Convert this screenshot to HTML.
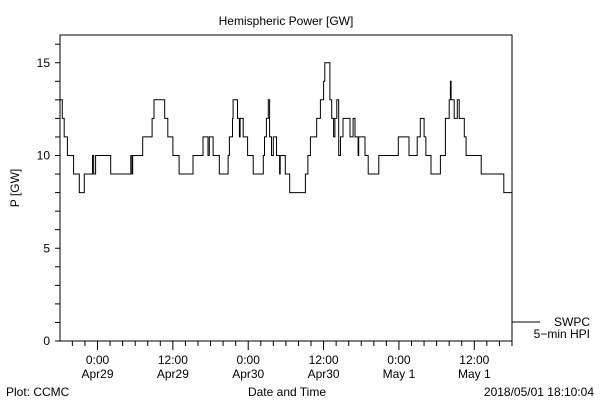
<!DOCTYPE html>
<html><head><meta charset="utf-8"><style>
body{margin:0;background:#fff;}
svg{display:block;font-family:"Liberation Sans","DejaVu Sans",sans-serif;}
text{font-size:12px;fill:#000;}
</style></head><body>
<svg id="chart" width="600" height="400" viewBox="0 0 600 400">
<rect x="0" y="0" width="600" height="400" fill="#fff"/>
<text x="286" y="25" text-anchor="middle" font-size="13">Hemispheric Power [GW]</text>
<text transform="translate(19,188) rotate(-90)" text-anchor="middle">P [GW]</text>
<text x="287" y="396" text-anchor="middle">Date and Time</text>
<text x="6" y="396">Plot: CCMC</text>
<text x="594" y="396" text-anchor="end">2018/05/01 18:10:04</text>
<g id="axes"></g>
<path id="series" fill="none" stroke="#000" stroke-width="1"/>
<line x1="512" y1="322" x2="540" y2="322" stroke="#000"/>
<text x="590" y="326" text-anchor="end">SWPC</text>
<text x="590" y="338" text-anchor="end">5−min HPI</text>
</svg>
<script>
const times=[-5.9,-5.6,-5.3,-4.8,-3.8,-2.9,-2.1,-0.8,-0.6,-0.3,2.1,5.3,5.5,5.6,7.2,8.7,9.0,10.7,11.2,12.0,13.0,15.2,16.8,17.6,17.8,18.4,19.4,20.8,21.0,21.5,21.6,22.3,22.6,22.7,23.2,23.9,24.8,26.4,26.6,26.9,27.2,27.4,27.7,28.0,28.5,29.0,29.1,
29.9,30.6,33.1,33.5,33.9,34.9,35.5,36.0,36.2,37.0,37.3,37.6,37.8,38.1,38.4,38.7,39.1,40.2,40.7,41.0,41.5,41.6,42.6,43.1,44.8,47.9,49.6,50.9,51.4,52.0,52.3,53.1,54.6,55.4,56.0,56.2,56.3,56.8,57.3,57.6,58.4,58.7,61.1,64.7];
const values=[13,12,11,10,9,8,9,10,9,10,9,10,9,10,11,12,13,12,11,10,9,10,11,10,11,10,9,10,11,12,13,12,11,12,11,10,9,10,11,12,13,11,10,11,10,9,10,
9,8,9,10,11,12,13,14,15,13,12,11,12,13,10,11,12,11,12,11,10,11,10,9,10,11,10,11,12,11,10,9,10,12,13,14,13,12,13,12,11,10,9,8];
const endTime=66.2;
const yTicks=[0,5,10,15];
const xTickHours=[0,12,24,36,48,60];
const xTickTimes=["0:00","12:00","0:00","12:00","0:00","12:00"];
const xTickDates=["Apr29","Apr29","Apr30","Apr30","May 1","May 1"];
const L=60,R=512,T=35,B=341;
const xs=h=>97.5+h*6.28;
const ys=v=>B-v*18.55;
const NS="http://www.w3.org/2000/svg";
const ax=document.getElementById('axes');
function mk(tag,attrs){const e=document.createElementNS(NS,tag);for(const k in attrs)e.setAttribute(k,attrs[k]);ax.appendChild(e);return e;}
const frame=mk('rect',{x:L,y:T,width:R-L,height:B-T,fill:'none',stroke:'#000'});


for(let v=0;v<=16;v++){
  const t=mk('line',{x1:L-5,x2:L,y1:ys(v),y2:ys(v),stroke:'#000'});
  
  
}
yTicks.forEach(v=>{
  const t=mk('text',{x:L-10,y:ys(v)+4,'text-anchor':'end'});t.textContent=v;
  
  
});
for(let h=-4;xs(h)<R;h+=2){
  const major=h%12===0;
  const t=mk('line',{x1:xs(h),x2:xs(h),y1:B,y2:B+(major?9:5),stroke:'#000'});
  
  
}
xTickHours.forEach((h,i)=>{
  const a=mk('text',{x:xs(h),y:364,'text-anchor':'middle'});a.textContent=xTickTimes[i];
  
  
  const b=mk('text',{x:xs(h),y:378,'text-anchor':'middle'});b.textContent=xTickDates[i];
  
  
});
let d='';
for(let i=0;i<times.length;i++){
  const x0=Math.max(L,xs(times[i]));
  const x1=i+1<times.length?xs(times[i+1]):Math.min(R,xs(endTime));
  const y=ys(values[i]);
  d+=(i===0?'M':'L')+x0.toFixed(1)+','+y.toFixed(1)+'L'+x1.toFixed(1)+','+y.toFixed(1);
}
document.getElementById('series').setAttribute('d',d);
</script>
</body></html>
